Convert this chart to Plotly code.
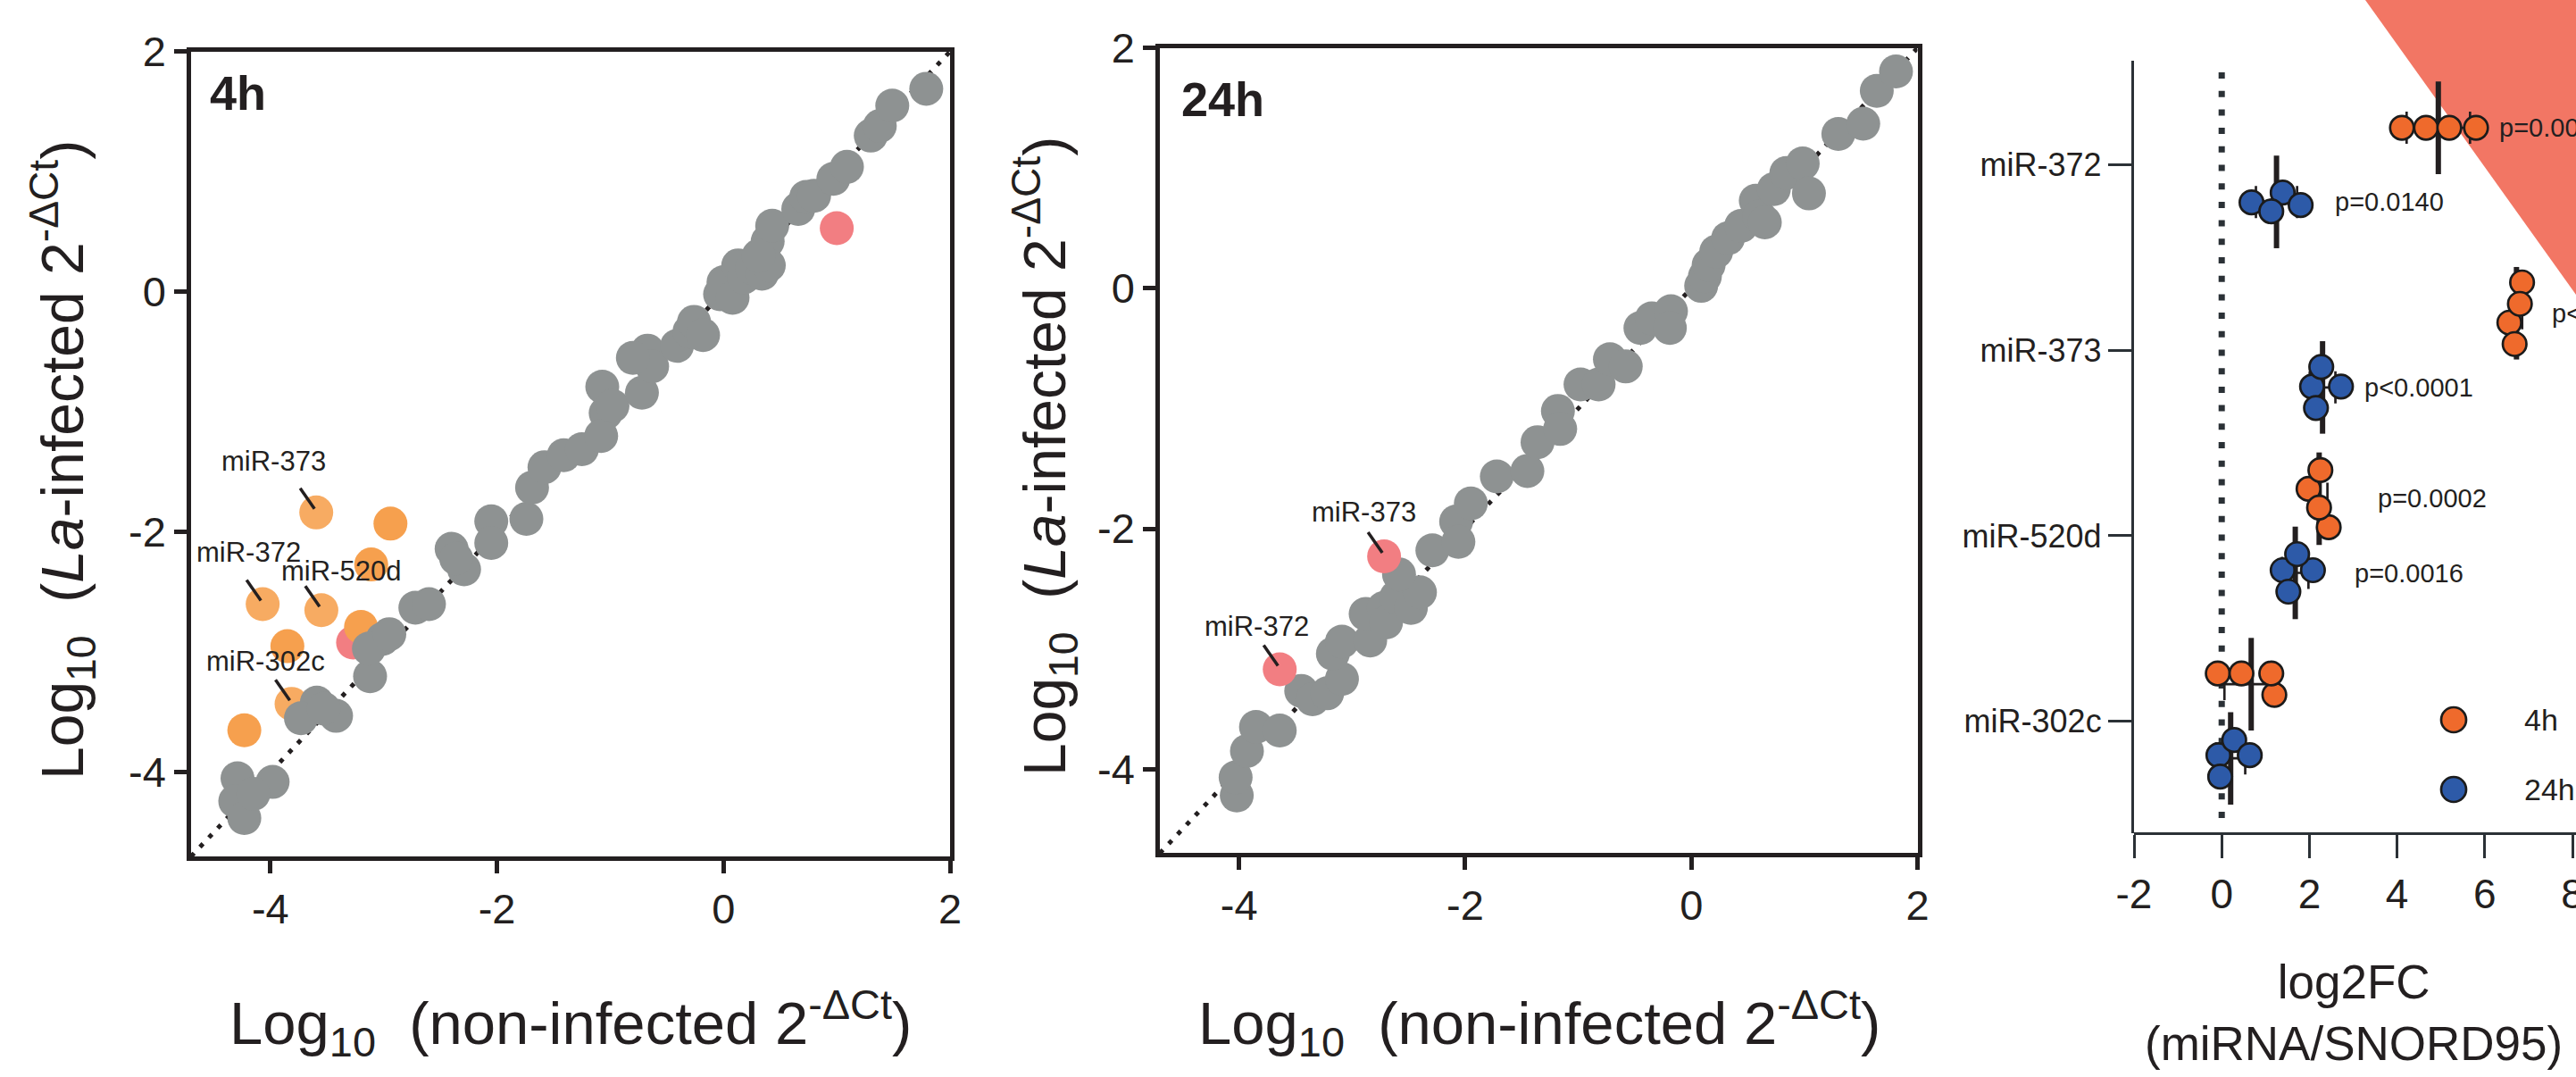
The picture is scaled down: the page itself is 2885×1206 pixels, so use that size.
import numpy as np
import plotly.graph_objects as go

W, H = 2885, 1206

# ---------------- data: panel 4h ----------------
p1_grey_x = [-4.29, -3.98, -4.31, -4.23, -4.15,
             -3.59, -3.42, -3.73, -3.53,
             -3.12, -3.01, -3.13, -2.95,
             -2.72, -2.60,
             -2.40, -2.29, -2.36, -2.05, -2.05, -1.74,
             -1.69, -1.58, -1.41, -1.25,
             -1.07, -1.04, -1.08, -0.98,
             -0.72, -0.67, -0.63, -0.80,
             -0.41, -0.30, -0.26, -0.18,
             -0.03, 0.00, 0.08, 0.13, 0.18,
             0.25, 0.34, 0.34, 0.39, 0.40, 0.31,
             0.43, 0.66, 0.73, 0.80,
             0.97, 1.09, 1.30, 1.38, 1.49, 1.79]
p1_grey_y = [-4.05, -4.08, -4.24, -4.38, -4.18,
             -3.42, -3.53, -3.55, -3.47,
             -3.20, -2.89, -2.97, -2.85,
             -2.63, -2.60,
             -2.14, -2.31, -2.22, -1.91, -2.09, -1.89,
             -1.63, -1.46, -1.36, -1.31,
             -0.79, -1.01, -1.20, -0.95,
             -0.84, -0.49, -0.62, -0.55,
             -0.45, -0.33, -0.25, -0.36,
             -0.02, 0.08, -0.05, 0.22, 0.12,
             0.20, 0.15, 0.27, 0.42, 0.22, 0.30,
             0.55, 0.69, 0.79, 0.80,
             0.94, 1.04, 1.30, 1.38, 1.55, 1.69]
p1_up_x = [-2.94, -3.11, -3.20, -3.85, -4.23]
p1_up_y = [-1.93, -2.27, -2.79, -2.95, -3.65]
p1_lab_names = ["miR-373", "miR-372", "miR-520d", "miR-302c"]
p1_lab_x = [-3.595, -4.068, -3.55, -3.813]
p1_lab_y = [-1.837, -2.60, -2.65, -3.43]
p1_down_x = [-3.27, 1.00]
p1_down_y = [-2.92, 0.53]

# ---------------- data: panel 24h ----------------
p2_grey_x = [-4.02, -4.03, -3.93, -3.85, -3.64, -3.45, -3.35, -3.22, -3.09, -3.17,
             -3.09, -2.84, -2.88, -2.72, -2.70, -2.61, -2.48, -2.40, -2.585, -2.29,
             -2.08, -2.06, -1.95, -1.72, -1.45, -1.36, -1.18, -1.16, -0.98, -0.82,
             -0.72, -0.58, -0.45, -0.35, -0.18, -0.19, 0.087, 0.12, 0.153, 0.22,
             0.325, 0.44, 0.57, 0.60, 0.65, 0.73, 0.84, 0.985, 1.04, 1.30,
             1.52, 1.64, 1.81]
p2_grey_y = [-4.22, -4.07, -3.85, -3.65, -3.68, -3.35, -3.42, -3.37, -3.25, -3.04,
             -2.94, -2.93, -2.71, -2.66, -2.78, -2.57, -2.66, -2.53, -2.38, -2.18,
             -1.94, -2.11, -1.79, -1.565, -1.52, -1.28, -1.02, -1.17, -0.80, -0.80,
             -0.59, -0.65, -0.33, -0.25, -0.19, -0.33, 0.021, 0.10, 0.195, 0.306,
             0.417, 0.52, 0.73, 0.60, 0.55, 0.826, 0.96, 1.04, 0.79, 1.285,
             1.37, 1.644, 1.805]
p2_lab_names = ["miR-372", "miR-373"]
p2_lab_x = [-3.64, -2.717]
p2_lab_y = [-3.17, -2.23]

# ---------------- data: log2FC panel ----------------
categories = ["miR-372", "miR-373", "miR-520d", "miR-302c"]
fc_4h = [[4.11, 4.66, 5.80, 5.19],
         [6.56, 6.85, 6.68, 6.80],
         [1.98, 2.44, 2.22, 2.25],
         [-0.09, 1.20, 0.45, 1.13]]
fc_24h = [[0.68, 1.39, 1.13, 1.80],
          [2.06, 2.27, 2.15, 2.72],
          [1.39, 2.08, 1.72, 1.52],
          [-0.075, 0.285, -0.035, 0.64]]
p_4h = ["p=0.0002", "p<0.0001", "p=0.0002", ""]
p_24h = ["p=0.0140", "p<0.0001", "p=0.0016", ""]
series_names = ["4h", "24h"]
scatter_ticks = [-4, -2, 0, 2]
scatter_ticktext = ["-4", "-2", "0", "2"]
fc_ticks = [-2, 0, 2, 4, 6, 8]
fc_ticktext = ["-2", "0", "2", "4", "6", "8"]

# ---------------- styles / layout ----------------
FONT = "Liberation Sans, Arial, sans-serif"
INK = "#231f20"
AX3 = "#2b3136"
GREY = "#8e9292"
ORANGE = "#F6A04E"
ORANGE_H = "#F7AB62"
PINK = "#F27E82"
OR3 = "#EF6A2C"
BLUE3 = "#2D5AA8"
TRI = "#F27664"

RANGE12 = [-4.7, 2.0]
P1 = dict(x0=214, x1=1064, y0=57.7, y1=959)
P2 = dict(x0=1299, x1=2147.5, y0=53.8, y1=955.3)
P3 = dict(x0=2390, x1=2885, y0=67.7, y1=933.3)
X3_RANGE = [-2, 8.08]
Y3_RANGE = [3.605, -0.563]
GROUP_SHIFT = 0.2

def dom_x(p):
    return [p["x0"] / W, p["x1"] / W]

def dom_y(p):
    return [1 - p["y1"] / H, 1 - p["y0"] / H]

x_px_per_unit = (P3["x1"] - P3["x0"]) / (X3_RANGE[1] - X3_RANGE[0])
y_px_per_cat = (P3["y1"] - P3["y0"]) / (Y3_RANGE[0] - Y3_RANGE[1])

def p3_paper(xv, yv):
    px = P3["x0"] + (xv - X3_RANGE[0]) * x_px_per_unit
    py = P3["y0"] + (yv - Y3_RANGE[1]) * y_px_per_cat
    return px / W, 1 - py / H

fig = go.Figure()

# identity lines
for xa, ya in (("x", "y"), ("x2", "y2")):
    fig.add_trace(go.Scatter(x=RANGE12, y=RANGE12, xaxis=xa, yaxis=ya, mode="lines",
                             line=dict(color=INK, width=5, dash="5px,9.5px"),
                             hoverinfo="skip", showlegend=False))

MS = 38
fig.add_trace(go.Scatter(x=p1_down_x, y=p1_down_y, mode="markers", xaxis="x", yaxis="y",
                         marker=dict(size=MS, color=PINK, line=dict(width=0)), showlegend=False))
fig.add_trace(go.Scatter(x=p1_up_x, y=p1_up_y, mode="markers", xaxis="x", yaxis="y",
                         marker=dict(size=MS, color=ORANGE, line=dict(width=0)), showlegend=False))
fig.add_trace(go.Scatter(x=p1_lab_x, y=p1_lab_y, mode="markers", xaxis="x", yaxis="y",
                         marker=dict(size=MS, color=ORANGE_H, line=dict(width=0)), showlegend=False))
fig.add_trace(go.Scatter(x=p1_grey_x, y=p1_grey_y, mode="markers", xaxis="x", yaxis="y",
                         marker=dict(size=MS, color=GREY, line=dict(width=0)), showlegend=False))
fig.add_trace(go.Scatter(x=p2_grey_x, y=p2_grey_y, mode="markers", xaxis="x2", yaxis="y2",
                         marker=dict(size=MS, color=GREY, line=dict(width=0)), showlegend=False))
fig.add_trace(go.Scatter(x=p2_lab_x, y=p2_lab_y, mode="markers", xaxis="x2", yaxis="y2",
                         marker=dict(size=MS, color=PINK, line=dict(width=0)), showlegend=False))

# ---------------- panel 3 ----------------
DIAM = 24.0

def swarm(vals):
    vals = np.asarray(vals, float)
    order = np.argsort(vals)
    placed = []
    offs = np.zeros(len(vals))
    cands = [0] + [s * k for k in range(1, 300) for s in (1, -1)]
    for i in order:
        xp = vals[i] * x_px_per_unit
        for c in cands:
            if all((xp - a) ** 2 + (c - b) ** 2 >= DIAM ** 2 for a, b in placed):
                break
        placed.append((xp, c))
        offs[i] = c
    offs -= (offs.max() + offs.min()) / 2
    return offs / y_px_per_cat

for data, sign in ((fc_4h, -1), (fc_24h, 1)):
    means = [float(np.mean(v)) for v in data]
    sds = [float(np.std(v, ddof=1)) for v in data]
    centers = [i + sign * GROUP_SHIFT for i in range(len(data))]
    fig.add_trace(go.Scatter(x=means, y=centers, mode="markers", xaxis="x3", yaxis="y3",
                             marker=dict(symbol="line-ns", size=74, line=dict(width=6, color=INK)),
                             error_x=dict(type="data", array=sds, visible=True, thickness=2.7,
                                          width=18, color=INK),
                             hoverinfo="skip", showlegend=False))
for data, sign, col in ((fc_4h, -1, OR3), (fc_24h, 1, BLUE3)):
    xs, ys = [], []
    for i, v in enumerate(data):
        off = swarm(v)
        xs += list(v)
        ys += list(i + sign * GROUP_SHIFT + off)
    fig.add_trace(go.Scatter(x=xs, y=ys, mode="markers", xaxis="x3", yaxis="y3",
                             marker=dict(size=26.5, color=col, line=dict(width=2.7, color="#1b1b1b")),
                             showlegend=False))

# ---------------- axes ----------------
def sc_axis(dom, anchor):
    return dict(domain=dom, range=RANGE12, anchor=anchor, automargin=False, showline=True,
                linewidth=4.5, linecolor=INK, mirror=True, ticks="outside", ticklen=14,
                tickwidth=4.5, tickcolor=INK, tickvals=scatter_ticks, ticktext=scatter_ticktext,
                tickfont=dict(family=FONT, size=47, color=INK), showgrid=False, zeroline=False)

layout = dict(
    width=W, height=H, margin=dict(l=0, r=0, t=0, b=0, pad=0, autoexpand=False),
    paper_bgcolor="white", plot_bgcolor="rgba(0,0,0,0)", showlegend=False,
    font=dict(family=FONT, color=INK),
    xaxis=sc_axis(dom_x(P1), "y"), yaxis=sc_axis(dom_y(P1), "x"),
    xaxis2=sc_axis(dom_x(P2), "y2"), yaxis2=sc_axis(dom_y(P2), "x2"),
    xaxis3=dict(domain=dom_x(P3), range=X3_RANGE, anchor="free", position=dom_y(P3)[0],
                automargin=False, showline=True,
                linewidth=3.3, linecolor=AX3, ticks="outside", ticklen=26, tickwidth=3.3,
                tickcolor=AX3, tickvals=fc_ticks, ticktext=fc_ticktext, ticklabeloverflow="allow",
                tickfont=dict(family=FONT, size=46, color=INK), showgrid=False, zeroline=False),
    yaxis3=dict(domain=dom_y(P3), range=Y3_RANGE, autorange=False, anchor="x3", automargin=False,
                showline=True, linewidth=3.3, linecolor=AX3, ticks="outside", ticklen=26,
                tickwidth=3.3, tickcolor=AX3, tickvals=list(range(len(categories))),
                ticktext=categories,
                tickfont=dict(family=FONT, size=36, color=INK), showgrid=False, zeroline=False),
)
fig.update_layout(**layout)

shapes = []
shapes.append(dict(type="path", xref="paper", yref="paper", layer="below",
                   path=f"M {2649/W},1 L 1,1 L 1,{1-330/H} Z",
                   fillcolor=TRI, line=dict(width=0)))
shapes.append(dict(type="line", xref="x3", yref="y3 domain", x0=0, x1=0, y0=0.02, y1=1,
                   layer="below", line=dict(color=AX3, width=7, dash="7px,13.7px")))
for col, cy in ((OR3, 806), (BLUE3, 884)):
    shapes.append(dict(type="circle", xref="paper", yref="paper", xsizemode="pixel",
                       ysizemode="pixel", xanchor=2748 / W, yanchor=1 - cy / H,
                       x0=-14, x1=14, y0=-14, y1=14, fillcolor=col,
                       line=dict(color="#1b1b1b", width=2.7)))

ann = []
ann.append(dict(text="<b>4h</b>", xref="paper", yref="paper", x=233 / W, y=1 - 104 / H,
                xanchor="left", yanchor="middle", showarrow=False,
                font=dict(family=FONT, size=54, color=INK)))
ann.append(dict(text="<b>24h</b>", xref="paper", yref="paper", x=1321 / W, y=1 - 111 / H,
                xanchor="left", yanchor="middle", showarrow=False,
                font=dict(family=FONT, size=54, color=INK)))

LBL_OFF_P1 = {"miR-373": (-48, -57), "miR-372": (-16, -58), "miR-520d": (22, -44), "miR-302c": (-29, -48)}
LBL_OFF_P2 = {"miR-373": (-23, -49), "miR-372": (-26, -48)}

def add_labels(names, xs, ys, xa, ya, offs):
    for n, x, y in zip(names, xs, ys):
        shapes.append(dict(type="line", xref=xa, yref=ya, xsizemode="pixel", ysizemode="pixel",
                           xanchor=x, yanchor=y, x0=-18, y0=27, x1=-2, y1=4,
                           line=dict(color=INK, width=3.5)))
        dx, dy = offs[n]
        ann.append(dict(x=x, y=y, xref=xa, yref=ya, text=n, showarrow=False,
                        xshift=dx, yshift=-dy, xanchor="center", yanchor="middle",
                        font=dict(family=FONT, size=31, color=INK)))

add_labels(p1_lab_names, p1_lab_x, p1_lab_y, "x", "y", LBL_OFF_P1)
add_labels(p2_lab_names, p2_lab_x, p2_lab_y, "x2", "y2", LBL_OFF_P2)

XT = "Log<sub>10</sub>&nbsp;&nbsp;(non-infected 2<sup>-ΔCt</sup>)"
YT = "Log<sub>10</sub>&nbsp;&nbsp;(<i>La</i>-infected 2<sup>-ΔCt</sup>)"
for cx, cy in ((639, 1146), (1724, 1146)):
    ann.append(dict(text=XT, xref="paper", yref="paper", x=cx / W, y=1 - cy / H,
                    xanchor="center", yanchor="middle", showarrow=False,
                    font=dict(family=FONT, size=67, color=INK)))
for cx, cy in ((70, 515), (1170, 511)):
    ann.append(dict(text=YT, xref="paper", yref="paper", x=cx / W, y=1 - cy / H,
                    xanchor="center", yanchor="middle", showarrow=False, textangle=-90,
                    font=dict(family=FONT, size=66, color=INK)))
ann.append(dict(text="log2FC<br>(miRNA/SNORD95)", xref="paper", yref="paper",
                x=2636 / W, y=1 - 1134 / H, xanchor="center", yanchor="middle",
                showarrow=False, font=dict(family=FONT, size=53, color=INK)))

# p-values (placed in paper space from the panel's own scale)
P_X_4H = [6.29, 7.48, 3.51, 0]
P_X_24H = [2.55, 3.22, 2.98, 0]
for i in range(len(categories)):
    for txt, pxv, sign in ((p_4h[i], P_X_4H[i], -1), (p_24h[i], P_X_24H[i], 1)):
        if txt:
            ax_, ay_ = p3_paper(pxv, i + sign * GROUP_SHIFT)
            ann.append(dict(text=txt, x=ax_, y=ay_, xref="paper", yref="paper",
                            xanchor="left", yanchor="middle", showarrow=False,
                            font=dict(family=FONT, size=29, color=INK)))
for name, cy in zip(series_names, (806, 884)):
    ann.append(dict(text=name, xref="paper", yref="paper", x=2825 / W, y=1 - cy / H,
                    xanchor="left", yanchor="middle", showarrow=False,
                    font=dict(family=FONT, size=34, color=INK)))

fig.update_layout(shapes=shapes, annotations=ann)
fig.write_html("out.html", config={"displayModeBar": False})
